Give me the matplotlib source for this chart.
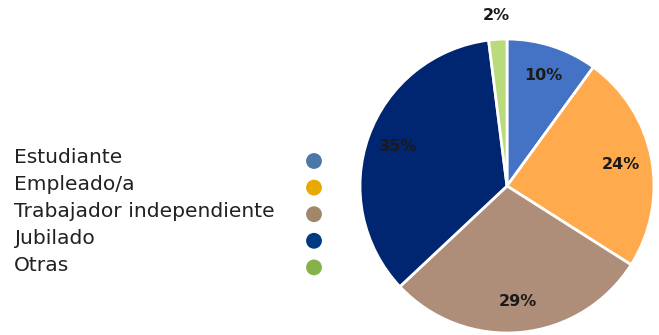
import numpy as np
import matplotlib.pyplot as plt

# share of respondents by occupation
categories = ['Estudiante', 'Empleado/a', 'Trabajador independiente', 'Jubilado', 'Otras']
shares = [10, 24, 29, 35, 2]
slice_colors = ['#4472C4', '#FFAA4C', '#AE8E78', '#002672', '#B9DB7C']
dot_colors = ['#4C77A9', '#E8A900', '#A0876A', '#003B82', '#86B24C']

fig = plt.figure(figsize=(6.59, 3.35), dpi=100)

# pie, drawn clockwise from 12 o'clock
ax = fig.add_axes([360 / 659, 2 / 335, 294 / 659, 294 / 335])
wedges, _ = ax.pie(shares, colors=slice_colors, startangle=90, counterclock=False,
                   wedgeprops=dict(edgecolor='white', linewidth=2))
ax.set_xlim(-1, 1)
ax.set_ylim(-1, 1)

total = sum(shares)
start = 90.0
for v in shares:
    mid = np.deg2rad(start - 360 * v / total / 2)
    start -= 360 * v / total
    r = 1.16 if v < 5 else 0.79
    ax.text(r * np.cos(mid), r * np.sin(mid), f'{v}%', ha='center', va='center',
            fontsize=11.5, fontweight='bold', color='#1a1a1a', family='DejaVu Sans')

# legend on the left: labels with coloured dots
lax = fig.add_axes([0, 0, 1, 1])
lax.set_xlim(0, 659)
lax.set_ylim(335, 0)
lax.axis('off')
for i, (name, c) in enumerate(zip(categories, dot_colors)):
    lax.text(14, 163 + 27 * i, name, ha='left', va='baseline', fontsize=14.6,
             family='DejaVu Sans', color='#222222')
    lax.scatter(314, 161 + 26.6 * i, s=130, color=c, edgecolors='none')

fig.savefig('out.png', dpi=100)
